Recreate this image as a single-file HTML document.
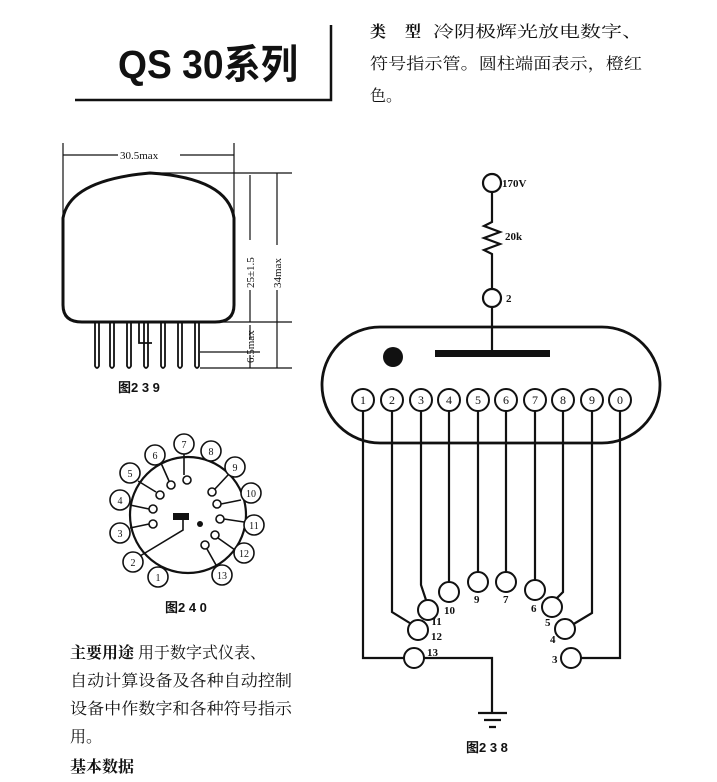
<!DOCTYPE html>
<html><head><meta charset="utf-8"><style>
html,body{margin:0;padding:0;background:#fff;}
svg{display:block;}
text{font-family:"Liberation Serif","Noto Serif CJK SC","Noto Sans CJK SC",serif;fill:#111;}
.c{font-family:"Liberation Sans","Noto Sans CJK SC",sans-serif;}
.s{font-family:"Liberation Serif","Noto Serif CJK SC",serif;}
</style></head><body>
<svg width="717" height="782" viewBox="0 0 717 782" xmlns="http://www.w3.org/2000/svg">
<rect width="717" height="782" fill="#fff"/>
<text class="c" x="118" y="78" font-size="40" font-weight="bold" textLength="180" lengthAdjust="spacingAndGlyphs">QS 30系列</text>
<path d="M75 100 H331 V25" fill="none" stroke="#111" stroke-width="2.5"/>
<g class="s" font-size="16">
<text x="370" y="37" font-weight="bold">类</text><text x="405" y="37" font-weight="bold">型</text>
<text x="433" y="37" textLength="210" lengthAdjust="spacingAndGlyphs">冷阴极辉光放电数字、</text>
<text x="370" y="69" textLength="272" lengthAdjust="spacingAndGlyphs">符号指示管。圆柱端面表示，橙红</text>
<text x="370" y="101">色。</text>
</g>
<g fill="none" stroke="#111">
<path d="M63 218 Q70 180 150 173 Q228 178 234 218 V305 Q234 322 215 322 H82 Q63 322 63 305 Z" stroke-width="3"/>
<g stroke-width="1.2">
<path d="M63 143 V262 M234 143 V262 M63 155 H118 M180 155 H234"/>
<path d="M150 173 H292 M200 322 H292 M200 352 H260 M200 368 H292"/>
<path d="M250 175 V240 M250 290 V322 M277 173 V245 M277 290 V368 M250 325 V340 M250 355 V368"/>
</g>
<g stroke-width="1.8">
<path d="M95 322 V366 Q97 370 99 366 V322 M110 322 V366 Q112 370 114 366 V322 M127 322 V366 Q129 370 131 366 V322 M144 322 V366 Q146 370 148 366 V322 M161 322 V366 Q163 370 165 366 V322 M178 322 V366 Q180 370 182 366 V322 M195 322 V366 Q197 370 199 366 V322"/>
<path d="M139 322 V343 H152"/>
</g>
</g>
<text x="120" y="159" font-size="11" font-family="Liberation Mono,monospace">30.5max</text>
<text font-size="11" font-family="Liberation Mono,monospace" transform="translate(254,288) rotate(-90)">25±1.5</text>
<text font-size="11" font-family="Liberation Mono,monospace" transform="translate(281,288) rotate(-90)">34max</text>
<text font-size="11" font-family="Liberation Mono,monospace" transform="translate(254,363) rotate(-90)">6.5max</text>
<text class="c" x="118" y="392" font-size="13" font-weight="bold">图2 3 9</text>
<g fill="none" stroke="#111" stroke-width="1.6">
<circle cx="188" cy="515" r="58" stroke-width="2.2"/>
<g fill="#fff">
<circle cx="158" cy="577" r="10"/><circle cx="133" cy="562" r="10"/><circle cx="120" cy="533" r="10"/><circle cx="120" cy="500" r="10"/><circle cx="130" cy="473" r="10"/><circle cx="155" cy="455" r="10"/><circle cx="184" cy="444" r="10"/><circle cx="211" cy="451" r="10"/><circle cx="235" cy="467" r="10"/><circle cx="251" cy="493" r="10"/><circle cx="254" cy="525" r="10"/><circle cx="244" cy="553" r="10"/><circle cx="222" cy="575" r="10"/>
</g>
<path d="M184 454 V475 M161 463 L169 481 M138 481 L156 492 M130 505 L149 509 M130 528 L149 524 M228 475 L214 490 M241 500 L221 504 M244 522 L224 519 M235 550 L218 538 M216 565 L207 549 M183 520 V530 L140 556"/>
<g fill="#fff"><circle cx="187" cy="480" r="4"/><circle cx="171" cy="485" r="4"/><circle cx="160" cy="495" r="4"/><circle cx="153" cy="509" r="4"/><circle cx="153" cy="524" r="4"/><circle cx="212" cy="492" r="4"/><circle cx="217" cy="504" r="4"/><circle cx="220" cy="519" r="4"/><circle cx="215" cy="535" r="4"/><circle cx="205" cy="545" r="4"/></g>
</g>
<rect x="173" y="513" width="16" height="7" fill="#111"/>
<circle cx="200" cy="524" r="3" fill="#111"/>
<g font-size="10" text-anchor="middle">
<text x="158" y="581">1</text><text x="133" y="566">2</text><text x="120" y="537">3</text><text x="120" y="504">4</text><text x="130" y="477">5</text><text x="155" y="459">6</text><text x="184" y="448">7</text><text x="211" y="455">8</text><text x="235" y="471">9</text><text x="251" y="497">10</text><text x="254" y="529">11</text><text x="244" y="557">12</text><text x="222" y="579">13</text>
</g>
<text class="c" x="165" y="612" font-size="13" font-weight="bold">图2 4 0</text>
<g class="s" font-size="16">
<text x="70" y="658"><tspan font-weight="bold">主要用途</tspan>  用于数字式仪表、</text>
<text x="70" y="686" textLength="222" lengthAdjust="spacingAndGlyphs">自动计算设备及各种自动控制</text>
<text x="70" y="714" textLength="222" lengthAdjust="spacingAndGlyphs">设备中作数字和各种符号指示</text>
<text x="70" y="742">用。</text>
<text x="70" y="772" font-weight="bold">基本数据</text>
</g>
<g fill="none" stroke="#111" stroke-width="2.2">
<rect x="322" y="327" width="338" height="116" rx="58" stroke-width="2.8"/>
<path d="M492 192 V222 L484 226 L500 232 L484 238 L500 244 L484 250 L492 254 V289 M492 307 V350"/>
<circle cx="492" cy="183" r="9"/><circle cx="492" cy="298" r="9"/>
<path d="M363 411 V658 H404 M424 658 H492 V713 M392 411 V612 L413 625 M421 411 V585 L426 600 M449 411 V583 M478 411 V572 M506 411 V572 M535 411 V580 M563 411 V592 L556 599 M592 411 V613 L572 625 M620 411 V658 H581"/>
<path d="M478 713 H507 M484 720 H501 M489 727 H496"/>
<g stroke-width="2" fill="#fff">
<circle cx="363" cy="400" r="11"/><circle cx="392" cy="400" r="11"/><circle cx="421" cy="400" r="11"/><circle cx="449" cy="400" r="11"/><circle cx="478" cy="400" r="11"/><circle cx="506" cy="400" r="11"/><circle cx="535" cy="400" r="11"/><circle cx="563" cy="400" r="11"/><circle cx="592" cy="400" r="11"/><circle cx="620" cy="400" r="11"/>
<circle cx="478" cy="582" r="10"/><circle cx="506" cy="582" r="10"/><circle cx="449" cy="592" r="10"/><circle cx="535" cy="590" r="10"/><circle cx="428" cy="610" r="10"/><circle cx="552" cy="607" r="10"/><circle cx="418" cy="630" r="10"/><circle cx="565" cy="629" r="10"/><circle cx="414" cy="658" r="10"/><circle cx="571" cy="658" r="10"/>
</g>
</g>
<circle cx="393" cy="357" r="10" fill="#111"/>
<rect x="435" y="350" width="115" height="7" fill="#111"/>
<g font-size="12" text-anchor="middle">
<text x="363" y="404">1</text><text x="392" y="404">2</text><text x="421" y="404">3</text><text x="449" y="404">4</text><text x="478" y="404">5</text><text x="506" y="404">6</text><text x="535" y="404">7</text><text x="563" y="404">8</text><text x="592" y="404">9</text><text x="620" y="404">0</text>
</g>
<g font-size="11" font-weight="bold">
<text x="502" y="187">170V</text><text x="505" y="240">20k</text><text x="506" y="302">2</text>
<text x="444" y="614">10</text><text x="474" y="603">9</text><text x="503" y="603">7</text><text x="531" y="612">6</text>
<text x="432" y="625">I1</text><text x="431" y="640">12</text><text x="545" y="626">5</text><text x="550" y="643">4</text>
<text x="427" y="656">13</text><text x="552" y="663">3</text>
</g>
<text class="c" x="466" y="752" font-size="13" font-weight="bold">图2 3 8</text>
</svg>
</body></html>
